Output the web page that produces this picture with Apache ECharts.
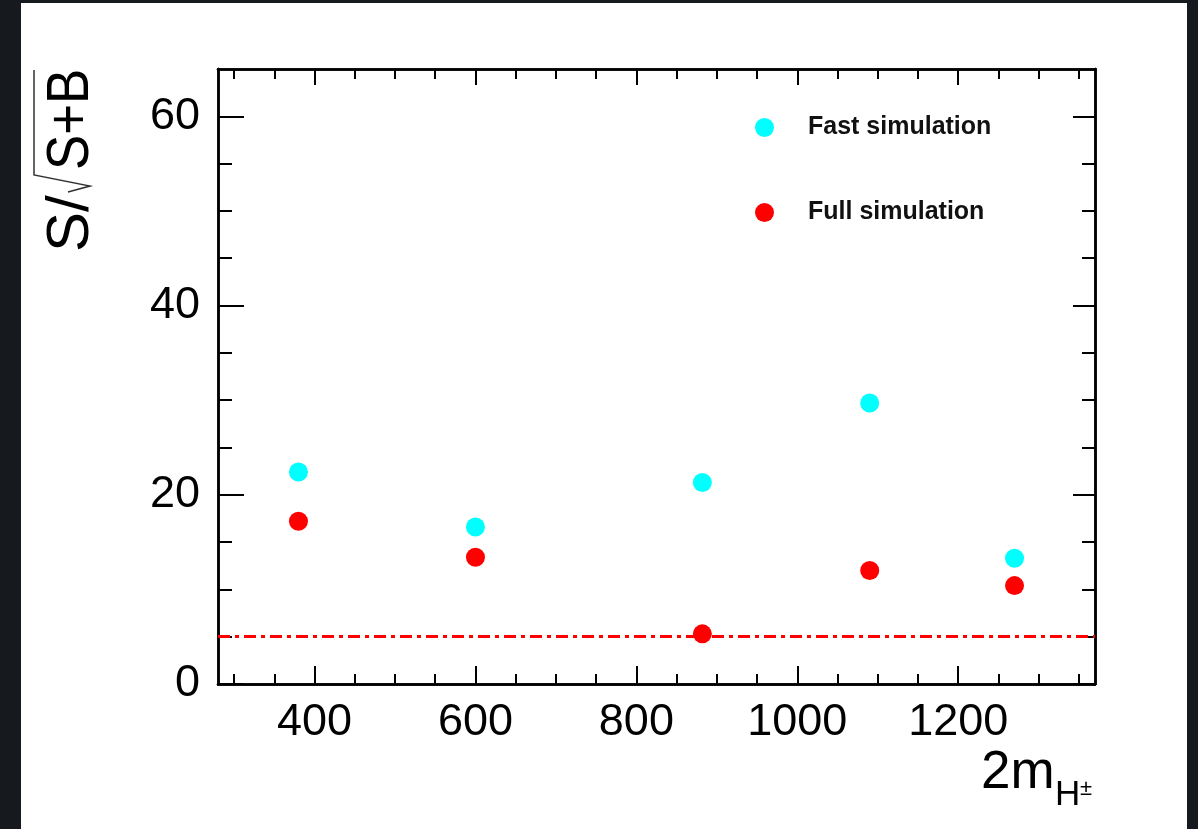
<!DOCTYPE html>
<html><head><meta charset="utf-8">
<script src="https://cdn.jsdelivr.net/npm/echarts@6/dist/echarts.min.js"></script>
<style>html,body{margin:0;padding:0;background:#161a1f;}#chart{width:1198px;height:829px;}</style>
</head><body><div id="chart"></div>
<script>
// ---- data ----
const massValues = [380, 600, 882, 1090, 1270];
const fastSim = [22.4, 16.6, 21.3, 29.7, 13.3];
const fullSim = [17.2, 13.4, 5.3, 12.0, 10.4];
const discoveryLevel = 5;
const seriesNames = ['Fast simulation', 'Full simulation'];
const xMajorTicks = [400, 600, 800, 1000, 1200];
const xMinorTicks = [300, 350, 450, 500, 550, 650, 700, 750, 850, 900, 950, 1050, 1100, 1150, 1250, 1300, 1350];
const yMajorTicks = [0, 20, 40, 60];
const yMinorTicks = [5, 10, 15, 25, 30, 35, 45, 50, 55];
const xRange = [280, 1370];
const yRange = [0, 65];

// ---- chart ----
const FONT = '"Liberation Sans", Arial, Helvetica, sans-serif';
const chart = echarts.init(document.getElementById('chart'));
const gridBox = {left: 218, top: 69, right: 103, bottom: 145};
const lineStyle = {color: '#000', width: 2.5};
const plain = v => String(v);

function xAxisDef(gi, pos, ticks, len, labels) {
  return {
    type: 'value', gridIndex: gi, position: pos, min: xRange[0], max: xRange[1],
    axisLine: {show: true, onZero: false, lineStyle: lineStyle},
    axisTick: {show: true, inside: true, length: len, customValues: ticks, lineStyle: {color: '#000', width: 2}},
    axisLabel: labels ? {show: true, customValues: ticks, formatter: plain, fontSize: 45, color: '#000', fontFamily: FONT, margin: 16} : {show: false},
    splitLine: {show: false}
  };
}
function yAxisDef(gi, pos, ticks, len, labels) {
  return {
    type: 'value', gridIndex: gi, position: pos, min: yRange[0], max: yRange[1],
    axisLine: {show: true, onZero: false, lineStyle: lineStyle},
    axisTick: {show: true, inside: true, length: len, customValues: ticks, lineStyle: {color: '#000', width: 2}},
    axisLabel: labels ? {show: true, customValues: ticks, formatter: plain, fontSize: 45, color: '#000', fontFamily: FONT, margin: 18} : {show: false},
    splitLine: {show: false}
  };
}

const option = {
  animation: false,
  backgroundColor: '#161a1f',
  grid: [Object.assign({}, gridBox), Object.assign({}, gridBox)],
  xAxis: [
    xAxisDef(0, 'bottom', xMajorTicks, 18, true),
    xAxisDef(0, 'top', xMajorTicks, 16, false),
    xAxisDef(1, 'bottom', xMinorTicks, 10, false),
    xAxisDef(1, 'top', xMinorTicks, 10, false)
  ],
  yAxis: [
    yAxisDef(0, 'left', yMajorTicks, 26, true),
    yAxisDef(0, 'right', yMajorTicks, 22, false),
    yAxisDef(1, 'left', yMinorTicks, 14, false),
    yAxisDef(1, 'right', yMinorTicks, 13, false)
  ],
  legend: {
    orient: 'vertical', left: 755, top: 115, padding: 0,
    itemWidth: 19, itemHeight: 19, itemGap: 60,
    icon: 'circle',
    data: seriesNames,
    itemStyle: {opacity: 1},
    textStyle: {fontSize: 25, fontWeight: 'bold', color: '#111', fontFamily: FONT, padding: [0, 0, 0, 29]}
  },
  graphic: [
    {type: 'rect', z: -100, shape: {x: 21, y: 3, width: 1166, height: 826}, style: {fill: '#ffffff'}},
    {type: 'text', x: 71, y: 170, rotation: Math.PI / 2, scaleX: 0.88, z: 10,
      style: {text: 'S+B', font: '60px ' + FONT, fill: '#000', align: 'left', verticalAlign: 'middle'}},
    {type: 'text', x: 71, y: 252, rotation: Math.PI / 2, z: 10,
      style: {text: 'S/', font: '60px ' + FONT, fill: '#000', align: 'left', verticalAlign: 'middle'}},
    {type: 'polyline', z: 10, shape: {points: [[68, 192], [90, 186], [34, 175], [34, 70]]},
      style: {stroke: '#333', lineWidth: 1.5, fill: null}},
    {type: 'text', x: 981, y: 773, z: 10,
      style: {text: '2m', font: '53px ' + FONT, fill: '#000', align: 'left', verticalAlign: 'middle'}},
    {type: 'text', x: 1055, y: 795, z: 10,
      style: {text: 'H', font: '35px ' + FONT, fill: '#000', align: 'left', verticalAlign: 'middle'}},
    {type: 'text', x: 1080, y: 789, z: 10,
      style: {text: '±', font: '22px ' + FONT, fill: '#000', align: 'left', verticalAlign: 'middle'}}
  ],
  series: [
    {
      name: seriesNames[0], type: 'scatter', xAxisIndex: 0, yAxisIndex: 0,
      symbol: 'circle', symbolSize: 19, itemStyle: {color: '#00ffff', opacity: 1},
      data: massValues.map((x, i) => [x, fastSim[i]])
    },
    {
      name: seriesNames[1], type: 'scatter', xAxisIndex: 0, yAxisIndex: 0, z: 3,
      symbol: 'circle', symbolSize: 19, itemStyle: {color: '#ff0000', opacity: 1},
      data: massValues.map((x, i) => [x, fullSim[i]]),
      markLine: {
        silent: true, symbol: ['none', 'none'], label: {show: false}, z: 1,
        lineStyle: {color: '#ff0000', width: 3, type: [12, 5, 4, 5]},
        data: [{yAxis: discoveryLevel}]
      }
    }
  ]
};
chart.setOption(option);
</script></body></html>
